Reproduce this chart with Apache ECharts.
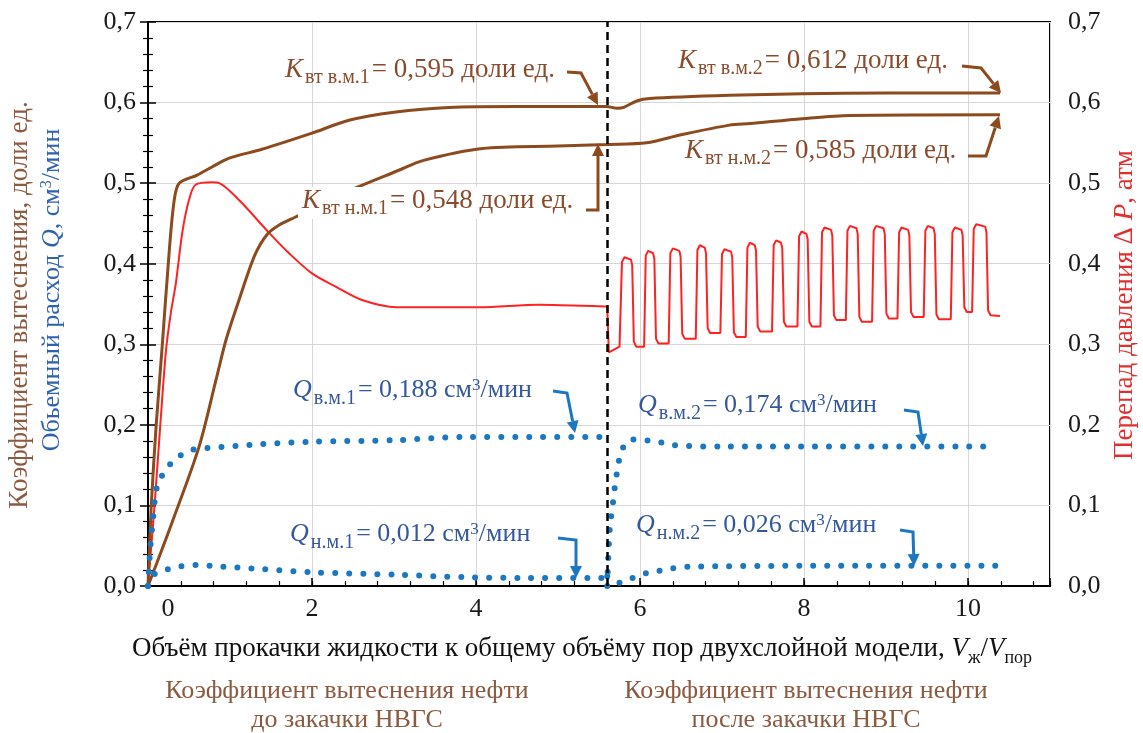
<!DOCTYPE html>
<html><head><meta charset="utf-8">
<script src="https://cdn.jsdelivr.net/npm/echarts/dist/echarts.min.js"></script>
<style>html,body{margin:0;padding:0;background:#fff}#c{width:1143px;height:733px}</style>
</head><body><div id="c"></div>
<script>
// ---- data ----
const xTickValues = [0, 2, 4, 6, 8, 10];
const yTickValues = [0, 0.1, 0.2, 0.3, 0.4, 0.5, 0.6, 0.7];
const boundaryX = 5.6;

// K вт, верхний (высокопроницаемый) слой
const kUpper = [[0,0],[0.04,0.1],[0.1,0.2],[0.17,0.293],[0.26,0.417],[0.32,0.479],[0.38,0.5],[0.6,0.51],[0.78,0.52],[0.99,0.531],[1.39,0.542],[2.0,0.562],[2.45,0.578],[3.0,0.588],[3.67,0.594],[4.5,0.595],[5.59,0.595],[5.72,0.593],[5.8,0.594],[5.96,0.602],[6.12,0.605],[7.09,0.609],[7.98,0.611],[9.0,0.612],[10.39,0.612]];
// K вт, нижний (низкопроницаемый) слой
const kLower = [[0,0],[0.29,0.078],[0.62,0.172],[0.83,0.256],[0.95,0.305],[1.11,0.355],[1.3,0.41],[1.45,0.436],[1.6,0.448],[1.8,0.458],[2.42,0.489],[3.06,0.516],[3.35,0.528],[4.08,0.543],[5.0,0.546],[5.6,0.548],[6.08,0.55],[6.5,0.56],[7.09,0.572],[7.34,0.574],[7.98,0.58],[8.56,0.584],[10.39,0.585]];
// ΔP до закачки
const dpBefore = [[0,0],[0.08,0.1],[0.15,0.2],[0.22,0.293],[0.28,0.34],[0.34,0.376],[0.42,0.44],[0.5,0.479],[0.58,0.498],[0.78,0.501],[0.87,0.5],[1.11,0.479],[1.48,0.438],[1.72,0.413],[2.0,0.388],[2.3,0.371],[2.61,0.355],[3.03,0.346],[4.04,0.346],[4.77,0.349],[5.57,0.347],[5.6,0.347]];
// ΔP после закачки: начало и импульсы
const dpAfterStart = [[5.6,0.347],[5.62,0.29],[5.75,0.297]];
const pulseRiseX = [5.77,6.06,6.36,6.69,6.99,7.30,7.62,7.93,8.21,8.52,8.84,9.15,9.47,9.80,10.06];
const pulseFallX = [5.91,6.18,6.50,6.81,7.13,7.42,7.74,8.05,8.35,8.66,8.99,9.29,9.60,9.94,10.23];
const pulseHigh  = [0.408,0.416,0.419,0.423,0.418,0.426,0.429,0.440,0.445,0.447,0.447,0.445,0.447,0.445,0.449];
const pulseLow   = [0.297,0.301,0.307,0.314,0.309,0.316,0.322,0.322,0.330,0.328,0.332,0.334,0.331,0.340,0.336];
const dpEnd = [[10.39,0.335]];
// Q расход
const qUpper1 = [[0,0],[0.03,0.05],[0.06,0.082],[0.1,0.119],[0.16,0.135],[0.26,0.15],[0.38,0.161],[0.54,0.169],[0.71,0.171],[1.39,0.176],[2.0,0.179],[3.03,0.181],[3.84,0.185],[4.65,0.185],[5.55,0.185]];
const qUpper2 = [[5.6,0.0],[5.63,0.07],[5.67,0.103],[5.71,0.135],[5.78,0.169],[5.9,0.182],[6.06,0.181],[6.22,0.179],[6.39,0.175],[7.01,0.173],[10.35,0.173]];
const qLower1 = [[0,0],[0.07,0.014],[0.22,0.02],[0.38,0.024],[0.58,0.026],[0.9,0.024],[1.39,0.021],[2.0,0.017],[3.03,0.014],[3.84,0.011],[4.65,0.01],[5.55,0.01]];
const qLower2 = [[5.6,0.012],[5.75,0.004],[5.91,0.01],[6.08,0.016],[6.24,0.019],[6.4,0.022],[6.6,0.024],[7.98,0.025],[10.35,0.025]];

// build pulse polyline from the read values
const dpAfter = dpAfterStart.slice();
for (let i = 0; i < pulseRiseX.length; i++) {
  dpAfter.push([pulseRiseX[i] - 0.01, i === 0 ? 0.297 : pulseLow[i-1]]);
  dpAfter.push([pulseRiseX[i] + 0.01, pulseHigh[i] - 0.006]);
  dpAfter.push([pulseRiseX[i] + 0.04, pulseHigh[i]]);
  dpAfter.push([pulseFallX[i] - 0.02, pulseHigh[i] - 0.003]);
  dpAfter.push([pulseFallX[i] - 0.005, pulseHigh[i] - 0.01]);
  dpAfter.push([pulseFallX[i] + 0.015, pulseLow[i] + 0.006]);
  dpAfter.push([pulseFallX[i] + 0.045, pulseLow[i]]);
}
dpEnd.forEach(p => dpAfter.push(p));

// ---- style ----
const FONT = '"Liberation Serif","Times New Roman",serif';
const BROWN = '#8c4a1e', BROWN_T = '#8a4a2c', BROWN_C = '#8b5a40';
const BLUE = '#1b77c0', BLUE_T = '#34589c', BLUE_TITLE = '#2f62ad';
const RED = '#ff2222', RED_T = '#e0302e';
const TICK_FS = 26;

const chart = echarts.init(document.getElementById('c'), null, {renderer: 'canvas'});
const fmt = v => v.toFixed(1).replace('.', ',');

function arrow(pts, color) {
  const n = pts.length, a = pts[n-2], b = pts[n-1];
  const ang = Math.atan2(b[1]-a[1], b[0]-a[0]);
  const L = 12, W = 6;
  const base = [b[0]-L*Math.cos(ang), b[1]-L*Math.sin(ang)];
  const p1 = [base[0]+W*Math.sin(ang), base[1]-W*Math.cos(ang)];
  const p2 = [base[0]-W*Math.sin(ang), base[1]+W*Math.cos(ang)];
  return [
    {type:'polyline', shape:{points: pts.slice(0, n-1).concat([base])}, style:{stroke:color, lineWidth:3, fill:null}, z:100},
    {type:'polygon', shape:{points:[b,p1,p2]}, style:{fill:color}, z:100}
  ];
}
function richK(color, main, sub, sup) {
  return {
    k:{fontFamily:FONT, fontStyle:'italic', fontSize:main, fill:color, verticalAlign:'bottom', padding:[0,1,5,0]},
    s:{fontFamily:FONT, fontSize:sub, fill:color, verticalAlign:'bottom', padding:[0,2,0,1]},
    n:{fontFamily:FONT, fontSize:main, fill:color, verticalAlign:'bottom', padding:[0,0,5,0]},
    p:{fontFamily:FONT, fontSize:sup, fill:color, verticalAlign:'top', padding:[0,0,0,0]}
  };
}
function kText(x, y, sub, val, bg) {
  const st = {text:'{k|K}{s|вт ' + sub + '}{n|= ' + val + ' доли ед.}', rich: richK(BROWN_T, 27, 20, 17), align:'left', verticalAlign:'middle'};
  if (bg) { st.backgroundColor = '#fff'; st.padding = [0,4,0,4]; }
  return {type:'text', x:x, y:y, z:90, style: st};
}
function qText(x, y, sub, val) {
  return {type:'text', x:x, y:y, z:90, style:{text:'{k|Q}{s|' + sub + '}{n|= ' + val + ' см}{p|3}{n|/мин}', rich: richK(BLUE_T, 26, 20, 17), align:'left', verticalAlign:'middle'}};
}

const graphics = [
  kText(285, 72, 'в.м.1', '0,595'),
  ...arrow([[567,72],[581,73],[598,105]], BROWN),
  kText(678, 63, 'в.м.2', '0,612'),
  ...arrow([[962,66],[981,68],[1001,93]], BROWN),
  kText(685, 153, 'н.м.2', '0,585'),
  ...arrow([[968,156],[986,156],[999,116]], BROWN),
  kText(298, 203, 'н.м.1', '0,548', true),
  ...arrow([[586,210],[598,210],[598,144]], BROWN),
  qText(293, 393, 'в.м.1', '0,188'),
  ...arrow([[553,391],[567,393],[575,433]], BLUE),
  qText(290, 537, 'н.м.1', '0,012'),
  ...arrow([[558,538],[576,540],[576,578]], BLUE),
  qText(638, 408, 'в.м.2', '0,174'),
  ...arrow([[904,410],[918,412],[923,446]], BLUE),
  qText(636, 528, 'н.м.2', '0,026'),
  ...arrow([[900,530],[913,532],[914,566]], BLUE),
  // axis titles
  {type:'text', x:20, y:305, rotation:Math.PI/2, style:{text:'Коэффициент вытеснения, доли ед.', font:'27px ' + FONT, fill:BROWN_C, align:'center', verticalAlign:'middle'}},
  {type:'text', x:52, y:290, rotation:Math.PI/2, style:{text:'{n|Обьемный расход }{i|Q}{n|, см}{p|3}{n|/мин}', align:'center', verticalAlign:'middle',
     rich:{n:{fontFamily:FONT, fontSize:26, fill:BLUE_TITLE, verticalAlign:'bottom'}, i:{fontFamily:FONT, fontSize:26, fontStyle:'italic', fill:BLUE_TITLE, verticalAlign:'bottom'}, p:{fontFamily:FONT, fontSize:16, fill:BLUE_TITLE, verticalAlign:'top'}}}},
  {type:'text', x:1125, y:305, rotation:Math.PI/2, style:{text:'{n|Перепад давления Δ }{i|P}{n|, атм}', align:'center', verticalAlign:'middle',
     rich:{n:{fontFamily:FONT, fontSize:27, fill:RED_T}, i:{fontFamily:FONT, fontSize:27, fontStyle:'italic', fill:RED_T}}}},
  {type:'text', x:582, y:651, style:{text:'{n|Объём прокачки жидкости к общему объёму пор двухслойной модели, }{i|V}{s|ж}{n|/}{i|V}{s|пор}', align:'center', verticalAlign:'middle',
     rich:{n:{fontFamily:FONT, fontSize:27, fill:'#111', verticalAlign:'bottom', padding:[0,0,5,0]}, i:{fontFamily:FONT, fontSize:27, fontStyle:'italic', fill:'#111', verticalAlign:'bottom', padding:[0,0,5,0]}, s:{fontFamily:FONT, fontSize:18, fill:'#111', verticalAlign:'bottom'}}}},
  {type:'text', x:347, y:706, style:{text:'Коэффициент вытеснения нефти\nдо закачки НВГС', font:'26px ' + FONT, fill:BROWN_C, align:'center', verticalAlign:'middle', lineHeight:29}},
  {type:'text', x:806, y:706, style:{text:'Коэффициент вытеснения нефти\nпосле закачки НВГС', font:'26px ' + FONT, fill:BROWN_C, align:'center', verticalAlign:'middle', lineHeight:29}}
];

const axisBase = {
  type:'value', min:0, max:0.7, interval:0.1,
  axisLine:{show:true, lineStyle:{color:'#000', width:2}},
  axisTick:{show:true, inside:true, length:8, lineStyle:{color:'#000', width:1.5}},
  minorTick:{show:true, splitNumber:5, length:5, lineStyle:{color:'#000', width:1.2}},
  axisLabel:{formatter: fmt, fontFamily:FONT, fontSize:TICK_FS, color:'#1a1a1a'}
};

const option = {
  backgroundColor:'#fff',
  animation:false,
  grid:{left:148, right:93, top:22, bottom:147, containLabel:false, outerBoundsMode:'none', show:true, borderColor:'#000', borderWidth:2, backgroundColor:'transparent'},
  xAxis:[
    {type:'value', min:0, max:11, interval:2, position:'bottom',
     axisLine:{show:true, lineStyle:{color:'#000', width:2}},
     axisTick:{show:true, inside:true, length:8, lineStyle:{color:'#000', width:1.5}},
     splitLine:{show:true, lineStyle:{color:'#d6d6d6', width:1}},
     axisLabel:{fontFamily:FONT, fontSize:TICK_FS, color:'#1a1a1a', margin:10,
       formatter: v => (xTickValues.indexOf(v) < 0 ? '' : (v === 0 ? '{z|0}' : String(v))),
       rich:{z:{fontFamily:FONT, fontSize:TICK_FS, color:'#1a1a1a', padding:[0,0,0,40]}}}},
    {type:'value', min:0, max:11, interval:0.4, position:'bottom',
     axisLine:{show:false}, axisLabel:{show:false}, splitLine:{show:false},
     axisTick:{show:true, inside:true, length:5, lineStyle:{color:'#000', width:1.2}}}
  ],
  yAxis:[
    Object.assign({}, axisBase, {position:'left', splitLine:{show:true, lineStyle:{color:'#d6d6d6', width:1}},
      axisLabel:Object.assign({}, axisBase.axisLabel, {margin:12})}),
    Object.assign({}, axisBase, {position:'right', splitLine:{show:false},
      axisLabel:Object.assign({}, axisBase.axisLabel, {margin:18})})
  ],
  series:[
    {type:'line', name:'ΔP до', yAxisIndex:1, data:dpBefore, showSymbol:false, smooth:0.3, lineStyle:{color:RED, width:2}, z:3,
     markLine:{symbol:'none', silent:true, label:{show:false}, lineStyle:{type:[8,5], color:'#000', width:2.5}, data:[{xAxis:boundaryX}], z:20}},
    {type:'line', name:'ΔP после', yAxisIndex:1, data:dpAfter, showSymbol:false, smooth:false, lineStyle:{color:RED, width:2}, z:3},
    {type:'line', name:'K в.м.', data:kUpper, showSymbol:false, smooth:0.3, lineStyle:{color:BROWN, width:3}, z:4},
    {type:'line', name:'K н.м.', data:kLower, showSymbol:false, smooth:0.3, lineStyle:{color:BROWN, width:3}, z:4},
    {type:'line', name:'Q в.м.1', data:qUpper1, showSymbol:false, smooth:0.3, lineStyle:{color:BLUE, width:6, type:[0,14], cap:'round'}, z:5},
    {type:'line', name:'Q в.м.2', data:qUpper2, showSymbol:false, smooth:0.3, lineStyle:{color:BLUE, width:6, type:[0,14], cap:'round'}, z:5},
    {type:'line', name:'Q н.м.1', data:qLower1, showSymbol:false, smooth:0.3, lineStyle:{color:BLUE, width:6, type:[0,14], cap:'round'}, z:5},
    {type:'line', name:'Q н.м.2', data:qLower2, showSymbol:false, smooth:0.3, lineStyle:{color:BLUE, width:6, type:[0,14], cap:'round'}, z:5}
  ],
  graphic: graphics
};
chart.setOption(option);
</script></body></html>
